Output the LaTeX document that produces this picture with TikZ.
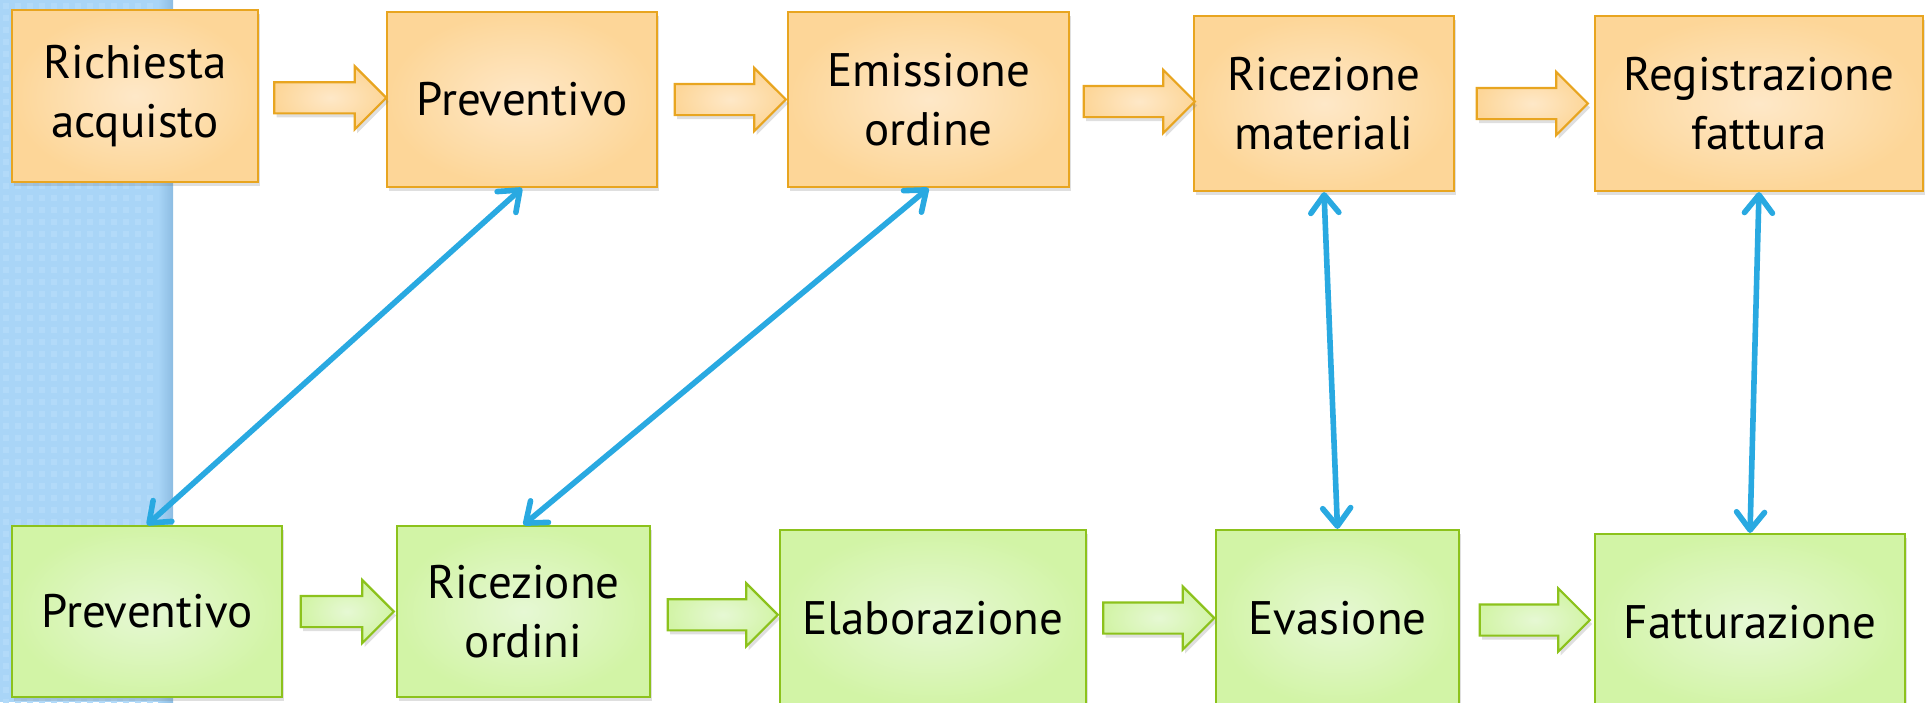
\documentclass[tikz,border=0pt]{standalone}
\usepackage{fontspec}
\setmainfont{PT Sans}
\usetikzlibrary{positioning, arrows.meta, calc, shadows, shapes.arrows}
\definecolor{cOrFill}{HTML}{FDD698}
\definecolor{cOrMid}{HTML}{FEE8C8}
\definecolor{cOrLine}{HTML}{E8A520}
\definecolor{cGrFill}{HTML}{D2F4A6}
\definecolor{cGrMid}{HTML}{E6F8D4}
\definecolor{cGrLine}{HTML}{8CC21C}
\definecolor{cLink}{HTML}{29A9E1}
\definecolor{cStrip}{HTML}{A9D5F7}
\definecolor{cStripDot}{HTML}{B2DAF9}
\definecolor{cStripEdge}{HTML}{8CBCE2}

\begin{document}
\begin{tikzpicture}[x=0.5pt, y=-0.5pt,
    box/.style={rectangle, line width=1.1pt, align=center, inner sep=0pt,
        font=\fontsize{23.5}{29.5}\selectfont,
        drop shadow={shadow xshift=1.2pt, shadow yshift=-2pt, opacity=0.25}},
    buy/.style={box, draw=cOrLine, inner color=cOrMid, outer color=cOrFill},
    sell/.style={box, draw=cGrLine, inner color=cGrMid, outer color=cGrFill},
    flow/.style={single arrow, single arrow head extend=8pt,
        inner xsep=0pt, inner ysep=7.25pt, line width=1.1pt,
        drop shadow={shadow xshift=1.2pt, shadow yshift=-2pt, opacity=0.25}},
    buyflow/.style={flow, draw=cOrLine, inner color=cOrMid, outer color=cOrFill},
    sellflow/.style={flow, draw=cGrLine, inner color=cGrMid, outer color=cGrFill},
    link/.style={cLink, line width=2.8pt, line cap=round,
        {Straight Barb[length=9pt, width=14pt, round]}-{Straight Barb[length=9pt, width=14pt, round]}}
]
    \useasboundingbox (0,0) rectangle (1928,702);

    % --- Side strip ---
    \fill[cStrip] (0,0) rectangle (173,702);
    \foreach \i in {0,...,13} {
        \foreach \j in {0,...,58} {
            \fill[cStripDot] (\i*12+3, \j*12+3) rectangle ++(6,6);
        }
    }
    \shade[left color=cStrip, right color=cStripEdge] (158,0) rectangle (173,702);

    % --- Buyer side (top row) ---
    \node[buy, minimum width=123pt, minimum height=86pt] (richiesta) at (135,96) {Richiesta\\acquisto};
    \node[buy, minimum width=135pt, minimum height=87.5pt] (prevA) at (522,99.5) {Preventivo};
    \node[buy, minimum width=140.5pt, minimum height=87.5pt] (emissione) at (928.5,99.5) {Emissione\\ordine};
    \node[buy, minimum width=130pt, minimum height=87.5pt] (ricmat) at (1324,103.5) {Ricezione\\materiali};
    \node[buy, minimum width=164pt, minimum height=87.5pt] (registra) at (1759,103.5) {Registrazione\\fattura};

    % --- Seller side (bottom row) ---
    \node[sell, minimum width=135pt, minimum height=85.5pt] (prevB) at (147,611.5) {Preventivo};
    \node[sell, minimum width=126.5pt, minimum height=85.5pt] (ricord) at (523.5,611.5) {Ricezione\\ordini};
    \node[sell, minimum width=153pt, minimum height=88pt] (elabora) at (933,618) {Elaborazione};
    \node[sell, minimum width=121.5pt, minimum height=88pt] (evasione) at (1337.5,618) {Evasione};
    \node[sell, minimum width=155pt, minimum height=88pt] (fattura) at (1750,622) {Fatturazione};

    % Block arrows between steps
    \foreach \a/\b/\l in {richiesta/prevA/56, prevA/emissione/55.5, emissione/ricmat/55.5, ricmat/registra/55.5} {
        \node[buyflow, minimum height=\l pt] (\a-\b) at ($(\a.east)!0.5!(\b.west)$) {};
    }
    \foreach \a/\b/\l in {prevB/ricord/46.5, ricord/elabora/55, elabora/evasione/55.5, evasione/fattura/55} {
        \node[sellflow, minimum height=\l pt] (\a-\b) at ($(\a.east)!0.5!(\b.west)$) {};
    }

    % --- Links between the two sides ---
    \draw[link] (prevA.south) -- (prevB.north);
    \draw[link] (emissione.south) -- (ricord.north);
    \draw[link] (ricmat.south) -- (evasione.north);
    \draw[link] (registra.south) -- (fattura.north);

\end{tikzpicture}
\end{document}
